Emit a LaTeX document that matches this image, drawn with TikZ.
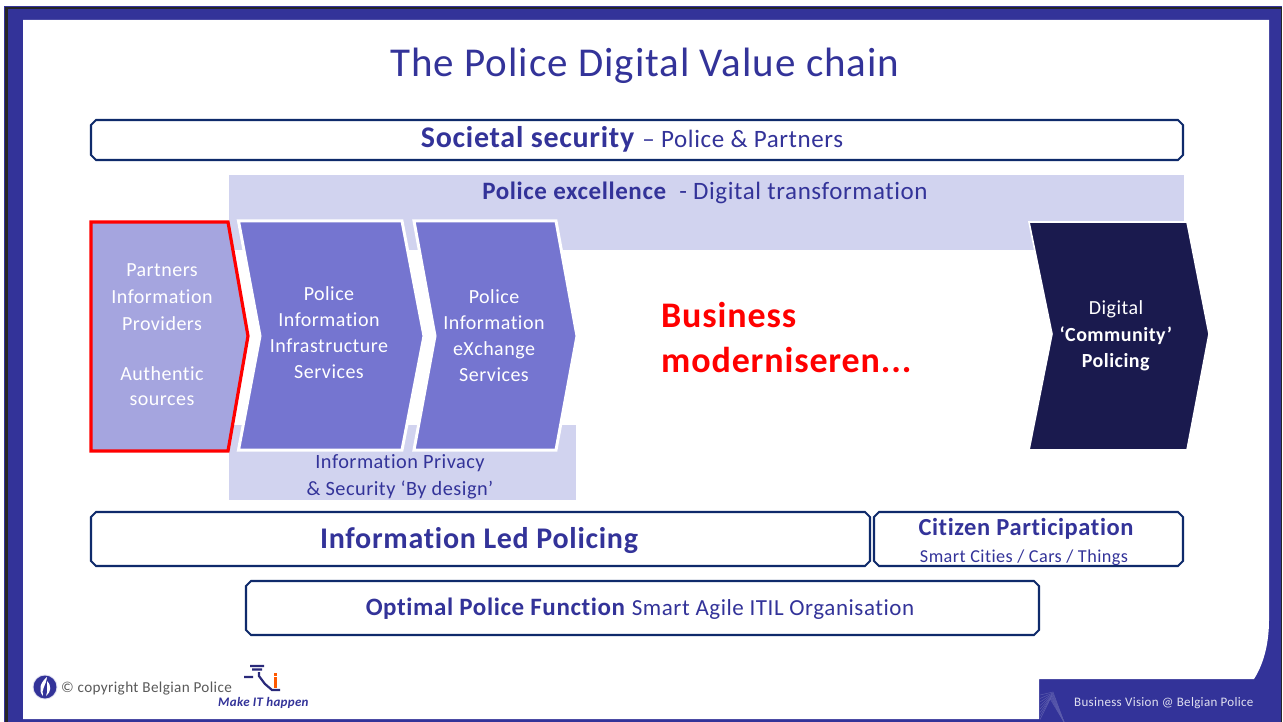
\documentclass[tikz,border=0pt]{standalone}
\usepackage{fontspec}
\setmainfont{Carlito}[LetterSpace=2.4,Ligatures=NoCommon]
\definecolor{polblue}{HTML}{333399}
\definecolor{navyline}{HTML}{0F2A6B}
\definecolor{palebar}{HTML}{D1D3EF}
\definecolor{lilac}{HTML}{A5A5DF}
\definecolor{midblue}{HTML}{7575D0}
\definecolor{darknavy}{HTML}{1A1A4E}
\tikzset{
  banner/.style={draw=navyline,line width=2.1pt,fill=white},
  chevron/.style={draw=white,line width=3pt,fill=midblue},
  bartext/.style={text=polblue,inner sep=0pt,align=center},
  chevtext/.style={text=white,inner sep=0pt,align=center,font=\fontsize{20}{26}\selectfont}
}
\newcommand{\bannerbox}[4]{%
  \filldraw[banner] (#1+5,#2) -- (#3-5,#2) -- (#3,#2+5) -- (#3,#4-5) -- (#3-5,#4)
    -- (#1+5,#4) -- (#1,#4-5) -- (#1,#2+5) -- cycle;}
\begin{document}
\begin{tikzpicture}[x=1pt,y=-1pt]
  \useasboundingbox (0,0) rectangle (1283,722);
  % slide frame
  \fill[polblue] (4,6) rectangle (1282,722);
  \fill[black!85] (5,7) rectangle (8,722);
  \fill[black!85] (5,7) rectangle (1282,9.5);
  \fill[black!85] (1280.5,7) rectangle (1282,722);
  \fill[white] (23,20) -- (1269,20) -- (1269,620) .. controls (1269,645) and (1263,665) .. (1254,679)
    -- (1039,679) -- (1039,719) -- (23,719) -- cycle;
  \node[bartext,font=\fontsize{41}{41}\selectfont] (title) at (645,66) {The Police Digital Value chain};

  % pale bars
  \fill[palebar] (229,175) rectangle (1184,250);
  \fill[palebar] (229,425) rectangle (576,500);
  \node[bartext,font=\fontsize{25}{25}\selectfont,anchor=base] (excellence) at (705,200) {\textbf{Police excellence}\ \ - Digital transformation};
  \node[bartext,font=\fontsize{20.3}{27}\selectfont] (privacy) at (400,477) {Information Privacy\\\& Security ‘By design’};

  % banners
  \bannerbox{91}{120}{1183}{160}
  \bannerbox{91}{512}{870}{566}
  \bannerbox{874}{512}{1183}{566}
  \bannerbox{246}{581}{1039}{635}
  \node[bartext,anchor=base,font=\fontsize{25}{25}\selectfont] (societal) at (632,148) {\fontsize{30}{30}\selectfont\textbf{Societal security} \fontsize{25}{25}\selectfont -- Police \& Partners};
  \node[bartext,font=\fontsize{30}{30}\selectfont\bfseries] (ilp) at (479,541) {Information Led Policing};
  \node[bartext,font=\fontsize{24.5}{25}\selectfont\bfseries] (citizen) at (1026,529) {Citizen Participation};
  \node[bartext,font=\fontsize{18.2}{18}\selectfont] (smart) at (1024,558) {Smart Cities / Cars / Things};
  \node[bartext,anchor=base,font=\fontsize{24}{24}\selectfont] (optimal) at (640,615) {\fontsize{25}{25}\selectfont\textbf{Optimal Police Function}\ \fontsize{23}{23}\selectfont Smart Agile ITIL Organisation};

  % chevrons
  \filldraw[draw=red,line width=3.2pt,fill=lilac] (91,222) -- (228,222) -- (248,336) -- (228,451) -- (91,451) -- cycle;
  \filldraw[chevron] (238.5,221) -- (402,221) -- (424,336) -- (402,450) -- (238.5,450) -- (260,336) -- cycle;
  \filldraw[chevron] (414,221) -- (556,221) -- (577,336) -- (556,450) -- (414,450) -- (435,336) -- cycle;
  \filldraw[chevron,line width=1.6pt,fill=darknavy] (1029,222) -- (1187,222) -- (1209,334) -- (1187,450) -- (1029,450) -- (1052,334) -- cycle;
  \node[chevtext,font=\fontsize{20}{27}\selectfont] (partners) at (162,297) {Partners\\Information\\Providers};
  \node[chevtext,font=\fontsize{20}{25}\selectfont] (authentic) at (162,386) {Authentic\\sources};
  \node[chevtext] (pii) at (329,333) {Police\\Information\\Infrastructure\\Services};
  \node[chevtext] (pix) at (494,336) {Police\\Information\\eXchange\\Services};
  \node[chevtext,font=\fontsize{20}{26.5}\selectfont] (digital) at (1116,336) {Digital\\\textbf{‘Community’}\\\textbf{Policing}};

  \node[text=red,inner sep=0pt,align=left,anchor=west,font=\fontsize{36}{45}\selectfont\bfseries] (business) at (661,338) {Business\\moderniseren...};

  % footer
  \fill[white!85!polblue] (45,687) circle (12.5);
  \fill[polblue] (45,687) circle (11.5);
  \fill[white] (47,677) .. controls (40,683) and (38,690) .. (43,696) .. controls (41,689) and (46,686) .. (47,677) -- cycle;
  \fill[white] (47,681) .. controls (52,686) and (51,692) .. (46,696) .. controls (48,691) and (47,686) .. (47,681) -- cycle;
  \node[anchor=base west,inner sep=0pt,text=black!65,font=\fontsize{15.2}{15}\selectfont] (copyright) at (61,692) {© copyright Belgian Police};
  \draw[polblue!80!black,line width=2.2pt] (244,677) -- (253,677) (250,666) -- (264,666) (252,669.5) -- (262,669.5)
    (259,672) -- (259,676) -- (265,684) -- (272,690) -- (280,690);
  \fill[orange!70!red] (274,673) rectangle (277,675.5);
  \fill[orange!70!red] (274,677) rectangle (277,688);
  \node[anchor=base west,inner sep=0pt,text=polblue,font=\fontsize{13}{13}\selectfont\bfseries\itshape] (makeit) at (218,706) {Make IT happen};
  \foreach \i in {0,...,7}
    \draw[white!20!polblue,line width=.5pt] (1040,695+\i*3.5) -- (1053-\i*.4,692+\i*1) -- (1064,722);
  \node[anchor=base west,inner sep=0pt,text=white!85!polblue,font=\fontsize{13}{13}\selectfont] (vision) at (1074,706) {Business Vision @ Belgian Police};
\end{tikzpicture}
\end{document}
